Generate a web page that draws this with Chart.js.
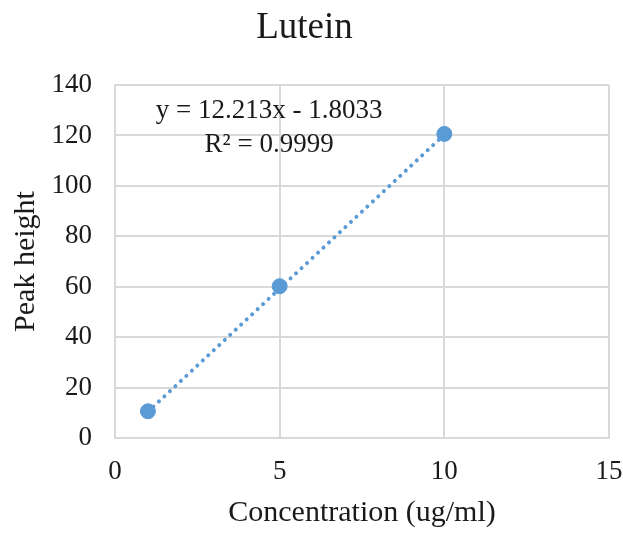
<!DOCTYPE html>
<html>
<head>
<meta charset="utf-8">
<script src="https://cdn.jsdelivr.net/npm/chart.js@4"></script>
<style>
  html, body { margin: 0; padding: 0; background: #fff; }
  #wrap { width: 623px; height: 533px; }
</style>
</head>
<body>
<div id="wrap"><canvas id="lutChart"></canvas></div>
<script>
// measured points
const concentration = [1, 5, 10];
const peakHeight = [10.6, 60.2, 120.6];
const xTicks = [0, 5, 10, 15];
const yTicks = [0, 20, 40, 60, 80, 100, 120, 140];

// trendline as printed on the chart
const slope = 12.213;
const intercept = -1.8033;
const eqLines = ['y = 12.213x - 1.8033', 'R\u00b2 = 0.9999'];
const eqPos = [[4.68, 129.7], [4.68, 116.2]];

const blue = '#5b9bd5';
const grid = '#d9d9d9';
const serif = '"Liberation Serif", "Times New Roman", serif';

const pts = concentration.map((c, i) => ({ x: c, y: peakHeight[i] }));
const xMin = Math.min(...concentration), xMax = Math.max(...concentration);
const trend = [
    { x: xMin, y: slope * xMin + intercept },
    { x: xMax, y: slope * xMax + intercept }
];

const eqLabel = {
    id: 'eqLabel',
    afterDatasetsDraw(chart) {
        const ctx = chart.ctx, xs = chart.scales.x, ys = chart.scales.y;
        ctx.save();
        ctx.font = '27px ' + serif;
        ctx.fillStyle = '#1a1a1a';
        ctx.textAlign = 'center';
        ctx.textBaseline = 'middle';
        eqLines.forEach((t, i) => {
            ctx.fillText(t, xs.getPixelForValue(eqPos[i][0]), ys.getPixelForValue(eqPos[i][1]));
        });
        ctx.restore();
    }
};

new Chart(document.getElementById('lutChart'), {
    type: 'scatter',
    data: {
        datasets: [{
            label: 'Trend',
            data: trend,
            showLine: true,
            borderColor: blue,
            borderWidth: 4,
            borderDash: [0.01, 7.5],
            borderCapStyle: 'round',
            pointRadius: 0,
            fill: false,
            order: 2
        }, {
            label: 'Lutein',
            data: pts,
            backgroundColor: blue,
            borderColor: blue,
            pointRadius: 7.5,
            pointHoverRadius: 7.5,
            order: 1
        }]
    },
    options: {
        responsive: true,
        maintainAspectRatio: false,
        animation: false,
        layout: { padding: { left: 0, right: 14, top: 0, bottom: 0 } },
        plugins: {
            legend: { display: false },
            tooltip: { enabled: false },
            title: {
                display: true,
                text: 'Lutein',
                color: '#1a1a1a',
                font: { family: serif, size: 37, weight: 'normal' },
                padding: { top: 6, bottom: 34.6 }
            }
        },
        scales: {
            x: {
                type: 'linear',
                min: 0, max: 15,
                afterBuildTicks(s) { s.ticks = xTicks.map(v => ({ value: v })); },
                afterFit(s) { s.height = 95; s.paddingLeft = 0; s.paddingRight = 0; },
                grid: { color: grid, lineWidth: 2, drawTicks: false },
                border: { color: grid, width: 2 },
                ticks: {
                    color: '#1a1a1a',
                    padding: 18,
                    maxRotation: 0,
                    font: { family: serif, size: 27 }
                },
                title: {
                    display: true,
                    text: 'Concentration (ug/ml)',
                    color: '#1a1a1a',
                    font: { family: serif, size: 30 },
                    padding: { top: 0, bottom: 2 }
                }
            },
            y: {
                type: 'linear',
                min: 0, max: 140,
                afterBuildTicks(s) { s.ticks = yTicks.map(v => ({ value: v })); },
                afterFit(s) { s.width = 115; },
                grid: { color: grid, lineWidth: 2, drawTicks: false },
                border: { color: grid, width: 2 },
                ticks: {
                    color: '#1a1a1a',
                    padding: 23,
                    font: { family: serif, size: 27 }
                },
                title: {
                    display: true,
                    text: 'Peak height',
                    color: '#1a1a1a',
                    font: { family: serif, size: 30 },
                    padding: { top: 8, bottom: 0 }
                }
            }
        }
    },
    plugins: [eqLabel]
});
</script>
</body>
</html>
